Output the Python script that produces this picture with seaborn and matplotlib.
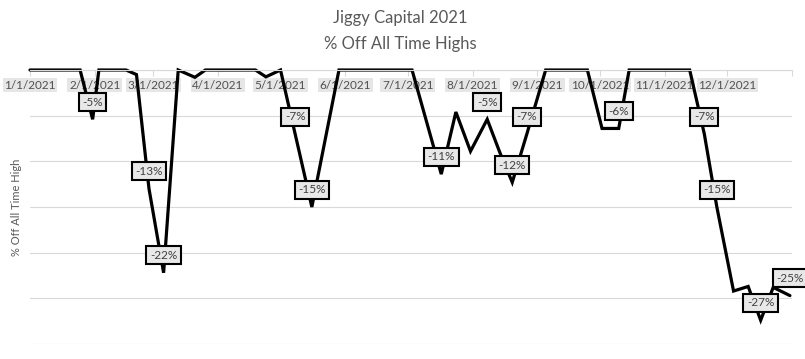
import matplotlib
matplotlib.use("Agg")
import matplotlib.pyplot as plt
import pandas as pd
import seaborn as sns

# ---- data ----
dates = ["2021-01-01", "2021-01-25", "2021-01-31", "2021-02-03", "2021-02-16",
         "2021-02-21", "2021-02-27", "2021-03-06", "2021-03-13", "2021-03-21",
         "2021-03-26", "2021-04-19", "2021-04-24", "2021-05-01", "2021-05-08",
         "2021-05-16", "2021-05-29", "2021-07-03", "2021-07-17", "2021-07-24",
         "2021-07-31", "2021-08-08", "2021-08-14", "2021-08-20", "2021-08-27",
         "2021-09-05", "2021-09-25", "2021-10-02", "2021-10-10", "2021-10-15",
         "2021-11-13", "2021-11-20", "2021-11-26", "2021-12-04", "2021-12-11",
         "2021-12-17", "2021-12-23", "2021-12-31"]
values = [0.0, 0.0, -5.4, 0.0, 0.0,
          -0.5, -13.0, -22.2, 0.0, -0.8,
          0.0, 0.0, -0.75, 0.0, -7.0,
          -15.0, 0.0, 0.0, -11.4, -4.6,
          -8.9, -5.4, -9.0, -12.3, -7.0,
          0.0, 0.0, -6.4, -6.4, 0.0,
          0.0, -7.0, -15.0, -24.2, -23.7,
          -27.4, -23.8, -24.7]
label_dates = ["2021-01-31", "2021-02-27", "2021-03-06", "2021-05-08", "2021-05-16",
               "2021-07-17", "2021-08-08", "2021-08-20", "2021-08-27", "2021-10-10",
               "2021-11-20", "2021-11-26", "2021-12-17", "2021-12-31"]
tick_dates = ["2021-01-01", "2021-02-01", "2021-03-01", "2021-04-01", "2021-05-01",
              "2021-06-01", "2021-07-01", "2021-08-01", "2021-09-01", "2021-10-01",
              "2021-11-01", "2021-12-01", "2022-01-01"]
tick_labels = ["1/1/2021", "2/1/2021", "3/1/2021", "4/1/2021", "5/1/2021",
               "6/1/2021", "7/1/2021", "8/1/2021", "9/1/2021", "10/1/2021",
               "11/1/2021", "12/1/2021", ""]
title_lines = ["Jiggy Capital 2021", "% Off All Time Highs"]
y_label = "% Off All Time High"

df = pd.DataFrame({"date": pd.to_datetime(dates), "value": values})

sns.set_theme(style="white")
plt.rcParams["font.family"] = ["Lato", "DejaVu Sans"]

W, H = 805, 359
fig = plt.figure(figsize=(W / 100, H / 100), dpi=100)
ax = fig.add_axes([30 / W, 15 / H, (792 - 30) / W, (344 - 70) / H])

sns.lineplot(data=df, x="date", y="value", ax=ax, color="black", lw=2.3,
             clip_on=False, solid_joinstyle="miter", zorder=2)

ax.set_xlim(pd.Timestamp("2021-01-01"), pd.Timestamp("2022-01-01"))
ax.set_ylim(-30, 0)
ax.set_yticks([-30, -25, -20, -15, -10, -5, 0])
ax.yaxis.grid(True, color="#d9d9d9", lw=0.8)
ax.xaxis.grid(False)
ax.tick_params(axis="y", left=False, labelleft=False)
for s in ["left", "right", "top"]:
    ax.spines[s].set_visible(False)
ax.spines["bottom"].set_position(("data", 0))
ax.spines["bottom"].set_color("#d9d9d9")
ax.spines["bottom"].set_linewidth(0.8)

ax.set_xticks(pd.to_datetime(tick_dates))
ax.set_xticklabels(tick_labels)
ax.tick_params(axis="x", bottom=True, direction="out", length=4, width=0.8,
               color="#d9d9d9", pad=3, labelsize=8.5, labelcolor="#505050")
for lbl in ax.get_xticklabels():
    lbl.set_bbox(dict(facecolor="#e6e6e6", edgecolor="none", pad=1.2))

ax.set_xlabel("")
ax.set_ylabel(y_label, fontsize=8, color="#595959")
ax.yaxis.set_label_coords(-0.0105, 0.5)

lab_set = set(pd.to_datetime(label_dates))
for d, v in zip(df["date"], df["value"]):
    if d in lab_set:
        ax.annotate(f"{round(v)}%", xy=(d, v), xytext=(0, 8.5), textcoords="offset points",
                    ha="center", va="bottom", fontsize=8.5, color="#404040", zorder=4,
                    annotation_clip=False,
                    bbox=dict(boxstyle="square,pad=0.3", facecolor="#e8e8e8",
                              edgecolor="black", lw=1.5))

fig.text(0.4975, 1 - 18 / H, title_lines[0], ha="center", va="center",
         fontsize=12, color="#595959")
fig.text(0.4975, 1 - 44 / H, title_lines[1], ha="center", va="center",
         fontsize=12, color="#595959")

fig.savefig("out.png", dpi=100)
